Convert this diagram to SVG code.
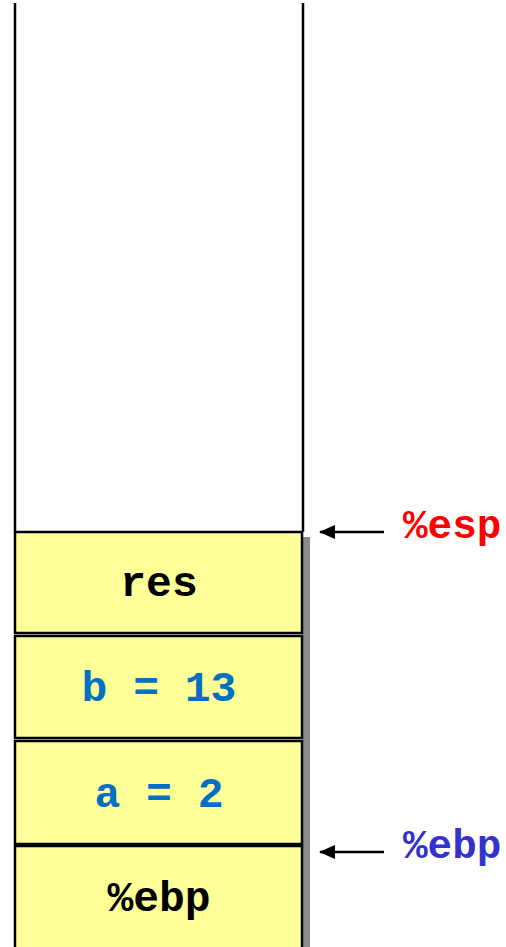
<svg xmlns="http://www.w3.org/2000/svg" width="506" height="947" viewBox="0 0 506 947">
  <defs>
    <marker id="arrow" viewBox="0 0 16 14" refX="15" refY="7" markerWidth="16" markerHeight="14" markerUnits="userSpaceOnUse" orient="auto">
      <path d="M0,0 L16,7 L0,14 Z" fill="#000"/>
    </marker>
  </defs>
  <style>
    .slot { fill: #FFFF99; stroke: #000; stroke-width: 2.5; }
    .shadow { fill: #8C8C8C; }
    .wall { stroke: #000; stroke-width: 2.5; fill: none; }
    .txt { font-family: "Liberation Mono", "Courier New", monospace; font-weight: bold; font-size: 43px; text-anchor: middle; }
    .dark { fill: #000; }
    .var { fill: #0070C0; }
    .reg { font-family: "Liberation Mono", "Courier New", monospace; font-weight: bold; font-size: 41px; }
    .link { stroke: #000; stroke-width: 2.5; fill: none; }
  </style>

  <!-- empty upper part of the stack -->
  <g id="stack-walls">
    <line class="wall" x1="15" y1="3" x2="15" y2="532"/>
    <line class="wall" x1="303" y1="3" x2="303" y2="532"/>
  </g>

  <!-- drop shadow along the right edge of the filled slots -->
  <rect class="shadow" x="303" y="537" width="7" height="410"/>

  <g id="slot-res">
    <rect class="slot" x="15" y="532" width="287" height="101"/>
    <text class="txt dark" x="159" y="596">res</text>
  </g>
  <g id="slot-b">
    <rect class="slot" x="15" y="636" width="287" height="102"/>
    <text class="txt var" x="159" y="701">b = 13</text>
  </g>
  <g id="slot-a">
    <rect class="slot" x="15" y="741" width="287" height="103"/>
    <text class="txt var" x="159" y="807">a = 2</text>
  </g>
  <g id="slot-ebp">
    <rect class="slot" x="15" y="846" width="287" height="103"/>
    <text class="txt dark" x="159" y="911">%ebp</text>
  </g>

  <g id="label-esp">
    <text class="reg" x="403" y="538" fill="#FF0000">%esp</text>
  </g>
  <g id="label-ebp">
    <text class="reg" x="403" y="858" fill="#3333CC">%ebp</text>
  </g>

  <g id="connectors">
    <line class="link" x1="384" y1="532" x2="320" y2="532" marker-end="url(#arrow)"/>
    <line class="link" x1="384" y1="852" x2="320" y2="852" marker-end="url(#arrow)"/>
  </g>
</svg>
